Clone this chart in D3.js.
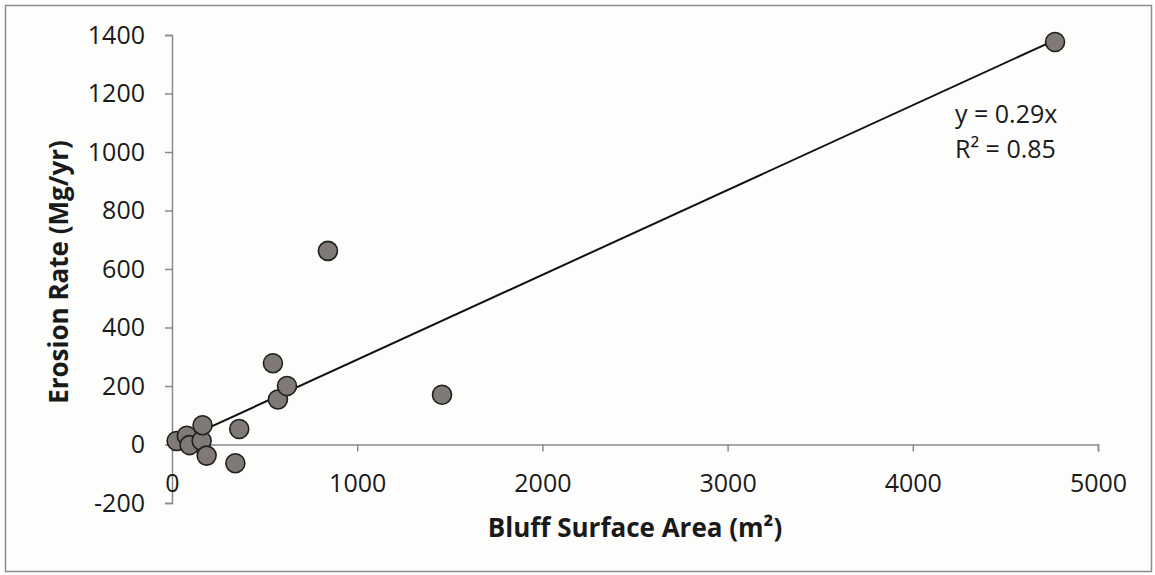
<!DOCTYPE html>
<html>
<head>
<meta charset="utf-8">
<script src="https://cdn.jsdelivr.net/npm/d3@7"></script>
<style>
  html, body { margin: 0; padding: 0; background: #ffffff; }
  svg { display: block; }
  text { font-family: "Open Sans", "Liberation Sans", sans-serif; fill: #1a1a1a; }
</style>
</head>
<body>
<svg id="chart" width="1155" height="575"></svg>
<script>
// Bluff surface area (m²) and measured erosion rate (Mg/yr) for each bluff
const bluffArea   = [25, 80, 95, 160, 165, 187, 342, 363, 545, 572, 621, 842, 1458, 4768];
const erosionRate = [12, 30, -2, 13, 66, -38, -64, 53, 278, 154, 200, 662, 170, 1376];

// Axis ticks
const xTicks = [0, 1000, 2000, 3000, 4000, 5000];
const yTicks = [-200, 0, 200, 400, 600, 800, 1000, 1200, 1400];

// Linear fit forced through the origin
const slope = 0.29;
const rSquared = 0.85;
const fitLabels = ["y = 0.29x", "R² = 0.85"];

const svg = d3.select("#chart");
const W = 1155, H = 575;
const plainNumber = d => String(d);

// Chart frame
svg.append("rect")
  .attr("x", 5.5).attr("y", 5.5)
  .attr("width", W - 9).attr("height", H - 9)
  .attr("fill", "#fdfdfc")
  .attr("stroke", "#8c8c8c")
  .attr("stroke-width", 1.5);

const x = d3.scaleLinear().domain([0, 5000]).range([172, 1098]);
const y = d3.scaleLinear().domain([-200, 1400]).range([503, 35]);

const axisColor = "#8a8a8a";
const tickFont = 25;

// Y axis
const yAxis = svg.append("g")
  .attr("transform", `translate(${x(0)},0)`)
  .call(d3.axisLeft(y).tickValues(yTicks).tickFormat(plainNumber)
    .tickSize(7).tickSizeOuter(7).tickPadding(20));
yAxis.select(".domain").attr("stroke", axisColor).attr("stroke-width", 1.5);
yAxis.selectAll(".tick line").attr("stroke", axisColor).attr("stroke-width", 1.5);
yAxis.selectAll(".tick text")
  .attr("font-size", tickFont)
  .attr("font-family", "'Open Sans', sans-serif")
  .attr("fill", "#1a1a1a");

// X axis drawn along y = 0
const xAxis = svg.append("g")
  .attr("transform", `translate(0,${y(0)})`)
  .call(d3.axisBottom(x).tickValues(xTicks).tickFormat(plainNumber)
    .tickSize(7).tickSizeOuter(7).tickPadding(23));
xAxis.select(".domain").attr("stroke", axisColor).attr("stroke-width", 1.5);
xAxis.selectAll(".tick line").attr("stroke", axisColor).attr("stroke-width", 1.5);
xAxis.selectAll(".tick text")
  .attr("font-size", tickFont)
  .attr("font-family", "'Open Sans', sans-serif")
  .attr("fill", "#1a1a1a");

// Trend line over the observed range of x
const xMin = d3.min(bluffArea), xMax = d3.max(bluffArea);
svg.append("line")
  .attr("x1", x(xMin)).attr("y1", y(slope * xMin))
  .attr("x2", x(xMax)).attr("y2", y(slope * xMax))
  .attr("stroke", "#111")
  .attr("stroke-width", 2);

// Data points
const pts = bluffArea.map((a, i) => ({ a, e: erosionRate[i] }));
svg.append("g").selectAll("circle")
  .data(pts)
  .join("circle")
  .attr("cx", d => x(d.a))
  .attr("cy", d => y(d.e))
  .attr("r", 9.5)
  .attr("fill", "#807a76")
  .attr("stroke", "#1e1e1e")
  .attr("stroke-width", 1.6);

// Fit equation and R²
svg.append("g").selectAll("text")
  .data(fitLabels)
  .join("text")
  .attr("x", 955)
  .attr("y", (d, i) => 123 + i * 35)
  .attr("font-size", 25)
  .text(d => d);

// Axis titles
svg.append("text")
  .attr("x", 635).attr("y", 537)
  .attr("text-anchor", "middle")
  .attr("font-size", 26)
  .attr("font-weight", "bold")
  .text("Bluff Surface Area (m²)");

svg.append("text")
  .attr("transform", "translate(68,272) rotate(-90)")
  .attr("text-anchor", "middle")
  .attr("font-size", 26)
  .attr("font-weight", "bold")
  .text("Erosion Rate (Mg/yr)");
</script>
</body>
</html>
